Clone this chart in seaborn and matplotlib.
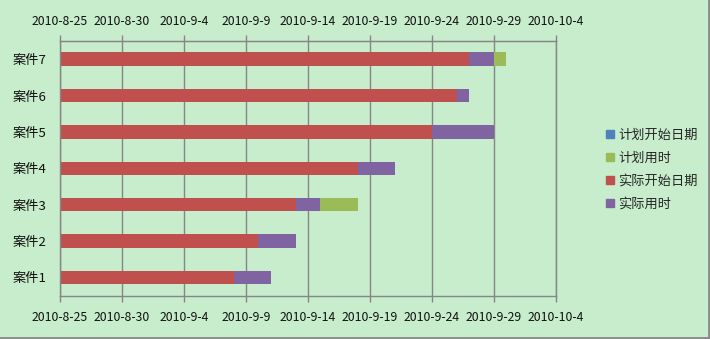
import matplotlib
matplotlib.use("Agg")
import matplotlib.pyplot as plt
import seaborn as sns
import pandas as pd
import numpy as np
from matplotlib.lines import Line2D

sns.set_style("white")
plt.rcParams['font.family'] = ['Noto Sans CJK SC', 'DejaVu Sans']

# ---- data ----
cases = ["案件7", "案件6", "案件5", "案件4", "案件3", "案件2", "案件1"]
plan_start = ["2010-9-27", "2010-9-26", "2010-9-24", "2010-9-18", "2010-9-13", "2010-9-10", "2010-9-8"]
plan_days = [3, 1, 4, 2, 5, 3, 3]
actual_start = ["2010-9-27", "2010-9-26", "2010-9-24", "2010-9-18", "2010-9-13", "2010-9-10", "2010-9-8"]
actual_days = [2, 1, 5, 3, 2, 3, 3]
tick_dates = ["2010-8-25", "2010-8-30", "2010-9-4", "2010-9-9", "2010-9-14",
              "2010-9-19", "2010-9-24", "2010-9-29", "2010-10-4"]
series_names = ["计划开始日期", "计划用时", "实际开始日期", "实际用时"]
colors = ["#4F81BD", "#9BBB59", "#C0504D", "#8064A2"]

# ---- derived ----
origin = pd.Timestamp("2010-08-25")
def off(d):
    return (pd.Timestamp(d) - origin).days

ps = np.array([off(d) for d in plan_start])
ass = np.array([off(d) for d in actual_start])
df = pd.DataFrame({
    "case": cases,
    "plan_start": ps,
    "plan_end": ps + np.array(plan_days),
    "act_start": ass,
    "act_end": ass + np.array(actual_days),
})

W, H = 710, 339
fig = plt.figure(figsize=(W / 100, H / 100), dpi=100)
fig.patch.set_facecolor("#C7EDCC")
ax = fig.add_axes([60 / W, (H - 295.5) / H, (556 - 60) / W, (295.5 - 41) / H])
ax.set_facecolor("#C7EDCC")

bw = 0.37
# layered drawing emulates stacking from the axis origin
sns.barplot(data=df, y="case", x="plan_end", order=cases, color=colors[1],
            width=bw, linewidth=0, ax=ax, orient="h", saturation=1)
sns.barplot(data=df, y="case", x="plan_start", order=cases, color=colors[0],
            width=bw, linewidth=0, ax=ax, orient="h", saturation=1)
sns.barplot(data=df, y="case", x="act_end", order=cases, color=colors[3],
            width=bw, linewidth=0, ax=ax, orient="h", saturation=1)
sns.barplot(data=df, y="case", x="act_start", order=cases, color=colors[2],
            width=bw, linewidth=0, ax=ax, orient="h", saturation=1)

ax.set_xlim(0, 40)
ax.set_ylim(len(cases) - 0.5, -0.5)
ticks = [off(d) for d in tick_dates]
ax.set_xticks(ticks)
ax.set_xticklabels(tick_dates, fontsize=8.8, color="#111111")
ax.tick_params(axis="x", top=False, labeltop=False, bottom=True, labelbottom=True,
               direction="out", length=4, width=1, color="#868686", pad=7.5)
ax.grid(axis="x", color="#868686", linewidth=1)
ax.set_axisbelow(True)

sec = ax.secondary_xaxis("top")
sec.set_xticks(ticks)
sec.set_xticklabels(tick_dates, fontsize=8.8, color="#111111")
sec.tick_params(axis="x", direction="out", length=4, width=1, color="#868686", pad=5)
sec.spines["top"].set_color("#868686")

ax.set_yticks(range(len(cases)))
ax.set_yticklabels(cases, fontsize=9.5, color="#111111")
ax.set_yticks(np.arange(-0.5, len(cases), 1.0), minor=True)
ax.tick_params(axis="y", which="major", length=0, pad=9.5)
ax.tick_params(axis="y", which="minor", length=5, width=1, color="#868686", direction="out")
ax.set_xlabel("")
ax.set_ylabel("")
for s in ax.spines.values():
    s.set_color("#868686")
    s.set_linewidth(1)
    s.set_visible(True)

handles = [Line2D([0], [0], marker="s", linestyle="none", markersize=5.5,
                  markerfacecolor=c, markeredgecolor=c) for c in colors]
fig.legend(handles, series_names, loc="upper left", bbox_to_anchor=(597 / W, 1 - 122 / H),
           frameon=False, fontsize=9.5, handletextpad=0.1, labelspacing=0.75,
           handlelength=1.0, borderpad=0)

# chart border (bottom/right shadow)
fig.add_artist(Line2D([0, 1], [1 / H, 1 / H], transform=fig.transFigure, color="#8a8a8a", linewidth=2))
fig.add_artist(Line2D([1 - 1 / W, 1 - 1 / W], [0, 1], transform=fig.transFigure, color="#8a8a8a", linewidth=2))

fig.savefig("out.png", dpi=100, facecolor=fig.get_facecolor())
